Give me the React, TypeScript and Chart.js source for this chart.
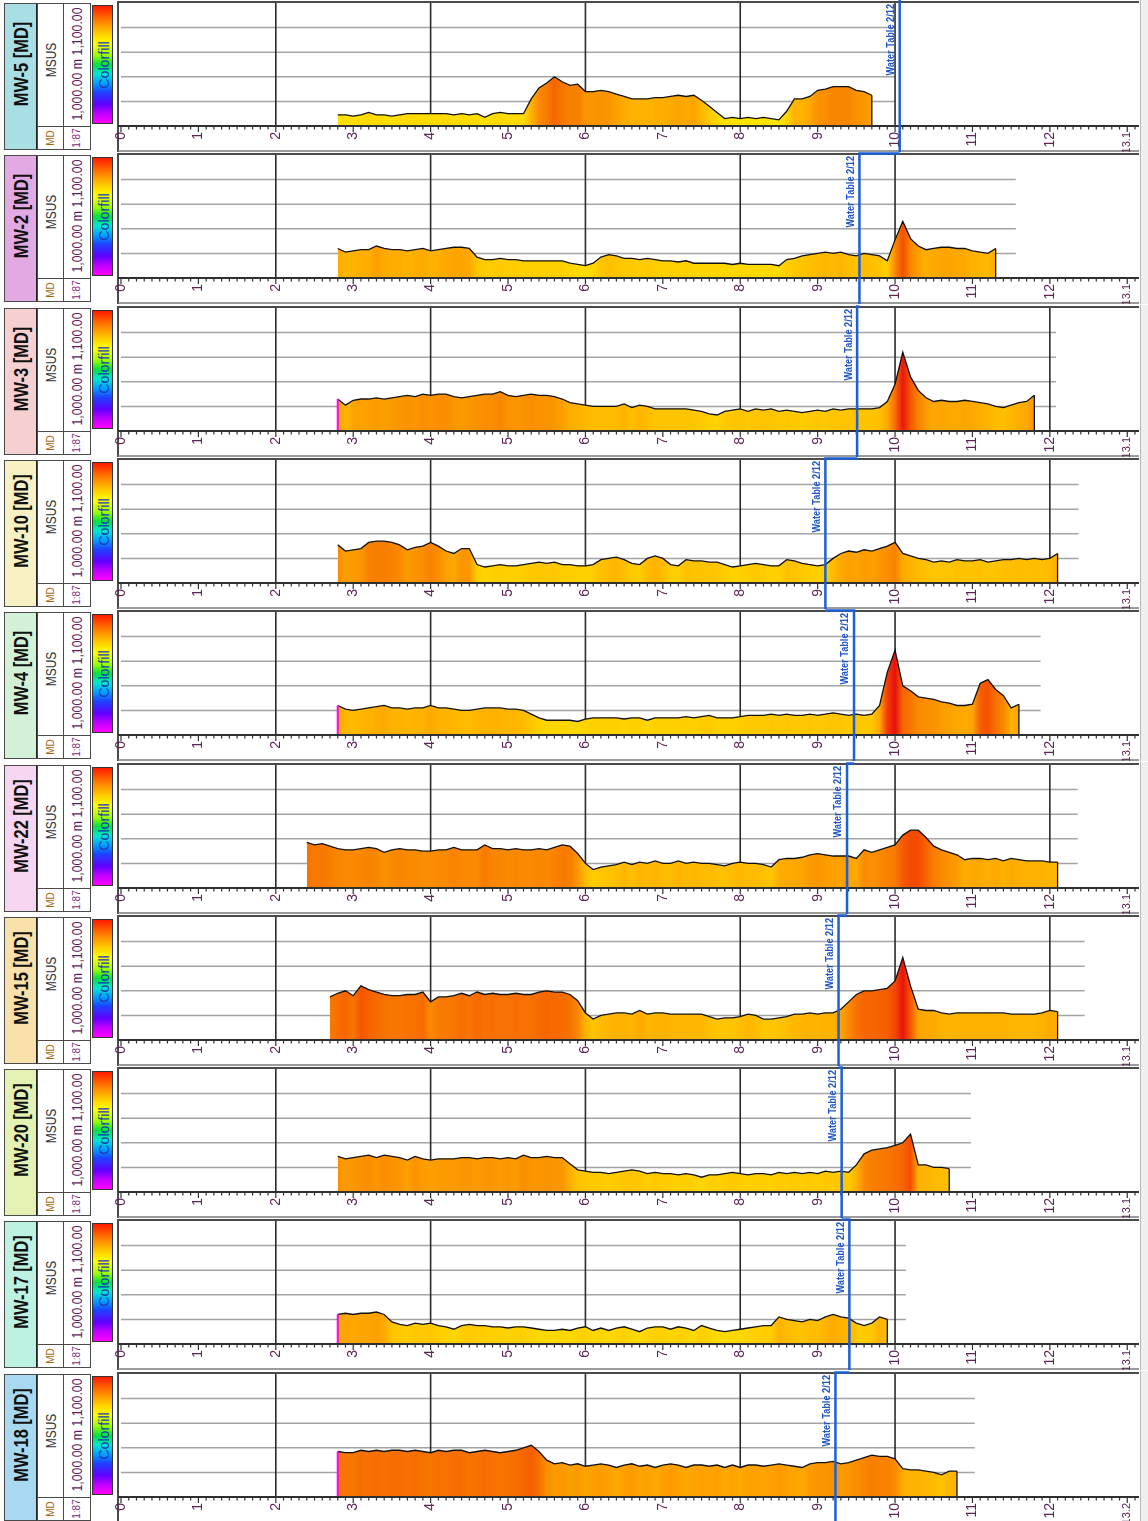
import React, { useEffect, useRef } from 'react';
import { Chart, registerables } from 'chart.js';

Chart.register(...registerables);

// ---------------- data ----------------
const WELLS = ['MW-5', 'MW-2', 'MW-3', 'MW-10', 'MW-4', 'MW-22', 'MW-15', 'MW-20', 'MW-17', 'MW-18'];
const HEADER_COLORS = ['#a9dfe4', '#e2a9e3', '#f6cfd0', '#f8f1c4', '#d2f1d6', '#f6d6f1', '#f9e1ab', '#e3f1b3', '#bdf1e1', '#a9d8f1'];
const DEPTH_STEP = 0.1;
const START_DEPTHS = [2.8, 2.8, 2.8, 2.8, 2.8, 2.4, 2.7, 2.8, 2.8, 2.8];
const WATER_TABLE = [10.06, 9.54, 9.51, 9.1, 9.47, 9.38, 9.27, 9.31, 9.41, 9.23];
const GRID_END = [10.0, 11.56, 12.08, 12.37, 11.88, 12.36, 12.45, 10.98, 10.14, 11.03];
const MAGENTA_START = [false, false, true, false, true, false, false, false, true, true];
const X_TICKS = [0, 1, 2, 3, 4, 5, 6, 7, 8, 9, 10, 11, 12, 13];
const X_TICK_LABELS = ['0', '1', '2', '3', '4', '5', '6', '7', '8', '9', '10', '11', '12'];
const LAST_TICK_LABELS = ['13.1', '13.1', '13.1', '13.1', '13.1', '13.1', '13.1', '13.1', '13.1', '13.2'];
const X_GRID = [2, 4, 6, 8, 10, 12];
const Y_GRID = [1020, 1040, 1060, 1080];
const Y_MIN = 1000;
const Y_MAX = 1100;
const WT_LABEL = 'Water Table 2/12';

const MW5 = [
  1009, 1009, 1008, 1009, 1011, 1009, 1009, 1008, 1009, 1010,
  1010, 1010, 1010, 1010, 1010, 1009, 1010, 1009, 1010, 1007,
  1010, 1011, 1010, 1010, 1010, 1022, 1031, 1035, 1040, 1036,
  1033, 1034, 1028, 1028, 1029, 1028, 1026, 1024, 1022, 1022,
  1022, 1023, 1023, 1024, 1025, 1024, 1025, 1021, 1016, 1011,
  1006, 1007, 1006, 1007, 1006, 1007, 1006, 1005, 1012, 1022,
  1022, 1024, 1029, 1030, 1032, 1032, 1032, 1029, 1028, 1025,
];
const MW2 = [
  1024, 1021, 1022, 1023, 1023, 1026, 1024, 1023, 1023, 1022,
  1023, 1024, 1022, 1023, 1024, 1025, 1025, 1024, 1017, 1015,
  1015, 1016, 1015, 1015, 1014, 1014, 1014, 1014, 1014, 1014,
  1012, 1011, 1010, 1012, 1017, 1019, 1018, 1016, 1016, 1015,
  1016, 1015, 1014, 1014, 1013, 1014, 1012, 1012, 1012, 1012,
  1012, 1011, 1012, 1011, 1011, 1011, 1011, 1010, 1015, 1016,
  1018, 1019, 1020, 1021, 1020, 1021, 1019, 1018, 1020, 1019,
  1018, 1014, 1031, 1046, 1032, 1026, 1023, 1024, 1025, 1025,
  1024, 1024, 1022, 1021, 1020, 1024,
];
const MW3 = [
  1026, 1021, 1025, 1026, 1026, 1027, 1026, 1027, 1028, 1029,
  1028, 1030, 1029, 1030, 1030, 1028, 1027, 1028, 1029, 1030,
  1030, 1032, 1029, 1028, 1029, 1030, 1029, 1029, 1028, 1026,
  1023, 1022, 1021, 1020, 1020, 1020, 1020, 1022, 1019, 1021,
  1020, 1018, 1018, 1018, 1018, 1018, 1017, 1016, 1014, 1013,
  1016, 1017, 1018, 1016, 1018, 1017, 1018, 1016, 1017, 1016,
  1015, 1016, 1017, 1016, 1018, 1017, 1018, 1018, 1018, 1018,
  1019, 1024, 1038, 1064, 1044, 1033, 1027, 1024, 1025, 1024,
  1024, 1025, 1024, 1023, 1022, 1020, 1019, 1021, 1023, 1024,
  1029,
];
const MW10 = [
  1031, 1026, 1027, 1028, 1033, 1034, 1034, 1033, 1031, 1027,
  1029, 1030, 1033, 1030, 1026, 1024, 1028, 1028, 1015, 1013,
  1014, 1015, 1014, 1014, 1015, 1016, 1017, 1016, 1017, 1015,
  1015, 1014, 1014, 1015, 1019, 1020, 1021, 1019, 1016, 1015,
  1020, 1022, 1020, 1015, 1014, 1019, 1018, 1018, 1017, 1017,
  1015, 1013, 1014, 1015, 1016, 1015, 1014, 1014, 1019, 1018,
  1016, 1015, 1014, 1015, 1020, 1024, 1026, 1025, 1027, 1026,
  1028, 1030, 1033, 1024, 1022, 1020, 1019, 1017, 1018, 1017,
  1019, 1018, 1018, 1019, 1017, 1018, 1019, 1019, 1020, 1019,
  1020, 1019, 1020, 1024,
];
const MW4 = [
  1024, 1021, 1020, 1021, 1022, 1023, 1024, 1022, 1022, 1021,
  1022, 1022, 1024, 1022, 1022, 1021, 1020, 1020, 1021, 1022,
  1022, 1022, 1021, 1021, 1020, 1017, 1014, 1012, 1012, 1012,
  1012, 1011, 1013, 1014, 1014, 1014, 1014, 1013, 1014, 1014,
  1012, 1014, 1014, 1014, 1014, 1015, 1014, 1015, 1016, 1014,
  1014, 1014, 1015, 1016, 1016, 1016, 1017, 1016, 1017, 1016,
  1016, 1017, 1016, 1017, 1018, 1017, 1016, 1017, 1016, 1017,
  1024, 1051, 1069, 1040, 1036, 1031, 1030, 1029, 1027, 1026,
  1024, 1024, 1025, 1042, 1045, 1037, 1032, 1022, 1025,
];
const MW22 = [
  1037, 1035, 1036, 1034, 1032, 1031, 1031, 1032, 1033, 1032,
  1029, 1031, 1032, 1031, 1031, 1030, 1030, 1031, 1031, 1033,
  1031, 1031, 1031, 1035, 1032, 1032, 1031, 1032, 1031, 1031,
  1032, 1031, 1033, 1035, 1034, 1028, 1020, 1015, 1017, 1018,
  1019, 1021, 1019, 1021, 1020, 1022, 1020, 1020, 1022, 1020,
  1021, 1020, 1020, 1019, 1018, 1020, 1021, 1020, 1020, 1019,
  1017, 1023, 1024, 1024, 1025, 1027, 1028, 1027, 1026, 1026,
  1026, 1024, 1031, 1029, 1031, 1033, 1035, 1043, 1047, 1047,
  1041, 1034, 1031, 1029, 1027, 1023, 1024, 1024, 1023, 1024,
  1022, 1024, 1023, 1022, 1022, 1022, 1021, 1021,
];
const MW15 = [
  1035, 1038, 1040, 1036, 1044, 1041, 1039, 1037, 1036, 1036,
  1037, 1037, 1039, 1031, 1035, 1035, 1036, 1038, 1036, 1039,
  1037, 1038, 1037, 1037, 1038, 1037, 1037, 1039, 1040, 1039,
  1039, 1037, 1032, 1022, 1017, 1020, 1021, 1022, 1022, 1021,
  1024, 1021, 1022, 1022, 1021, 1021, 1021, 1021, 1021, 1019,
  1017, 1018, 1018, 1019, 1021, 1020, 1017, 1017, 1018, 1019,
  1021, 1021, 1022, 1021, 1022, 1022, 1025, 1031, 1037, 1040,
  1040, 1041, 1042, 1048, 1067, 1044, 1025, 1024, 1024, 1022,
  1021, 1022, 1022, 1022, 1022, 1022, 1022, 1022, 1021, 1021,
  1021, 1021, 1022, 1024, 1023,
];
const MW20 = [
  1029, 1027, 1028, 1029, 1030, 1028, 1030, 1029, 1028, 1026,
  1029, 1027, 1026, 1027, 1027, 1027, 1028, 1028, 1027, 1028,
  1028, 1027, 1028, 1027, 1030, 1028, 1028, 1029, 1028, 1028,
  1023, 1018, 1017, 1016, 1016, 1015, 1016, 1017, 1018, 1017,
  1015, 1016, 1015, 1015, 1014, 1015, 1014, 1012, 1014, 1014,
  1015, 1016, 1015, 1014, 1015, 1015, 1014, 1016, 1015, 1016,
  1015, 1016, 1015, 1017, 1016, 1017, 1016, 1022, 1031, 1034,
  1035, 1036, 1038, 1040, 1047, 1022, 1022, 1020, 1020, 1019,
];
const MW17 = [
  1024, 1025, 1024, 1025, 1025, 1026, 1024, 1018, 1016, 1015,
  1017, 1016, 1017, 1015, 1014, 1012, 1015, 1016, 1015, 1015,
  1014, 1014, 1013, 1014, 1014, 1013, 1012, 1011, 1011, 1012,
  1011, 1013, 1014, 1011, 1013, 1011, 1013, 1014, 1012, 1010,
  1013, 1014, 1014, 1012, 1014, 1013, 1011, 1015, 1013, 1011,
  1010, 1011, 1012, 1013, 1014, 1015, 1015, 1022, 1020, 1019,
  1018, 1020, 1019, 1022, 1024, 1022, 1021, 1017, 1015, 1017,
  1022, 1020,
];
const MW18 = [
  1037, 1036, 1036, 1038, 1037, 1038, 1037, 1038, 1038, 1037,
  1038, 1037, 1036, 1038, 1037, 1038, 1038, 1036, 1037, 1038,
  1037, 1036, 1037, 1038, 1040, 1042, 1037, 1030, 1027, 1028,
  1026, 1027, 1025, 1026, 1027, 1026, 1024, 1026, 1027, 1025,
  1026, 1024, 1026, 1027, 1026, 1024, 1026, 1026, 1025, 1026,
  1024, 1026, 1024, 1026, 1026, 1025, 1026, 1027, 1026, 1025,
  1024, 1027, 1028, 1028, 1029, 1027, 1028, 1030, 1032, 1034,
  1033, 1033, 1031, 1023, 1022, 1022, 1021, 1020, 1018, 1021,
  1021,
];
const SERIES = [MW5, MW2, MW3, MW10, MW4, MW22, MW15, MW20, MW17, MW18];

// colour fill scale (value -> colour)
const COLOR_VALUES = [1005, 1012, 1018, 1023, 1028, 1034, 1041, 1050, 1060, 1070];
const COLOR_HEX = ['#ffe800', '#ffd600', '#ffc300', '#ffae00', '#fb9600', '#f87e00', '#f66200', '#f43f00', '#ee1e08', '#e50f0f'];

// ---------------- styling ----------------
const FONT = '"Liberation Sans", Arial, Helvetica, sans-serif';
const PANEL_PITCH = 152.3;
const PANEL_H = 152;
const CANVAS_LEFT = 115;
const CANVAS_W = 1033;

function hexToRgb(h: string) {
  const n = parseInt(h.slice(1), 16);
  return [(n >> 16) & 255, (n >> 8) & 255, n & 255];
}
function valueColor(v: number): string {
  const n = COLOR_VALUES.length;
  if (v <= COLOR_VALUES[0]) return COLOR_HEX[0];
  if (v >= COLOR_VALUES[n - 1]) return COLOR_HEX[n - 1];
  for (let i = 1; i < n; i++) {
    if (v <= COLOR_VALUES[i]) {
      const t = (v - COLOR_VALUES[i - 1]) / (COLOR_VALUES[i] - COLOR_VALUES[i - 1]);
      const a = hexToRgb(COLOR_HEX[i - 1]);
      const b = hexToRgb(COLOR_HEX[i]);
      const c = a.map((x, k) => Math.round(x + (b[k] - x) * t));
      return `rgb(${c[0]},${c[1]},${c[2]})`;
    }
  }
  return COLOR_HEX[n - 1];
}

function line(ctx: CanvasRenderingContext2D, x1: number, y1: number, x2: number, y2: number) {
  ctx.beginPath();
  ctx.moveTo(x1, y1);
  ctx.lineTo(x2, y2);
  ctx.stroke();
}

function makePanelPlugin(idx: number) {
  return {
    id: 'panelDecor' + idx,
    beforeDraw(chart: any) {
      const { ctx, chartArea: a, scales } = chart;
      const xs = scales.x;
      const ys = scales.y;
      const W = chart.width;
      const H = chart.height;
      ctx.save();
      ctx.fillStyle = '#ffffff';
      ctx.fillRect(0, 0, W, H);
      const xEnd = xs.getPixelForValue(GRID_END[idx]);
      ctx.strokeStyle = '#a4a4a4';
      ctx.lineWidth = 1.5;
      for (const v of Y_GRID) {
        const py = ys.getPixelForValue(v);
        line(ctx, a.left, py, xEnd, py);
      }
      ctx.strokeStyle = '#2b2b2b';
      ctx.lineWidth = 1.6;
      for (const d of X_GRID) {
        if (d > GRID_END[idx] + 0.05) continue;
        const px = xs.getPixelForValue(d);
        line(ctx, px, a.top, px, a.bottom);
      }
      // frame
      ctx.strokeStyle = '#4a4a4a';
      ctx.lineWidth = 2;
      ctx.beginPath();
      ctx.moveTo(a.left - 3, H);
      ctx.lineTo(a.left - 3, a.top - 1);
      ctx.lineTo(W - 9, a.top - 1);
      ctx.stroke();
      ctx.strokeStyle = '#7a7a7a';
      ctx.lineWidth = 1.5;
      line(ctx, a.left - 3, H - 1, W - 9, H - 1);
      ctx.fillStyle = '#efefef';
      ctx.fillRect(W - 8, 0, 8, H);
      ctx.strokeStyle = '#b8b8b8';
      ctx.lineWidth = 1;
      line(ctx, W - 7.5, 0, W - 7.5, H);
      ctx.restore();
    },
    afterDatasetsDraw(chart: any) {
      const { ctx, chartArea: a, scales } = chart;
      const xs = scales.x;
      const ys = scales.y;
      const W = chart.width;
      const H = chart.height;
      const vals = SERIES[idx];
      const start = START_DEPTHS[idx];
      const lastDepth = start + (vals.length - 1) * DEPTH_STEP;
      ctx.save();
      // closing edge of the curve
      ctx.strokeStyle = '#111';
      ctx.lineWidth = 1.3;
      const xl = xs.getPixelForValue(lastDepth);
      line(ctx, xl, ys.getPixelForValue(vals[vals.length - 1]), xl, a.bottom);
      if (MAGENTA_START[idx]) {
        ctx.strokeStyle = '#ff00ff';
        ctx.lineWidth = 2;
        const xf = xs.getPixelForValue(start);
        line(ctx, xf, ys.getPixelForValue(vals[0]), xf, a.bottom);
      }
      // axis line and ticks
      ctx.strokeStyle = '#303030';
      ctx.lineWidth = 2;
      line(ctx, a.left - 3, a.bottom, W - 9, a.bottom);
      ctx.lineWidth = 1.2;
      for (let k = 0; k <= 131; k++) {
        const px = xs.getPixelForValue(k * DEPTH_STEP);
        const len = k % 10 === 0 ? 6 : 3.5;
        line(ctx, px, a.bottom, px, a.bottom + len);
      }
      // water table
      const wx = xs.getPixelForValue(WATER_TABLE[idx]);
      ctx.strokeStyle = '#1d5fd6';
      ctx.lineWidth = 2.5;
      ctx.beginPath();
      ctx.moveTo(wx, H);
      ctx.lineTo(wx, 1.5);
      if (idx > 0) ctx.lineTo(xs.getPixelForValue(WATER_TABLE[idx - 1]), 1.5);
      else ctx.lineTo(wx, 0);
      ctx.stroke();
      ctx.translate(wx - 3, a.top + 1);
      ctx.rotate(-Math.PI / 2);
      ctx.scale(0.8, 1);
      ctx.font = `bold 11.5px ${FONT}`;
      ctx.fillStyle = '#1f55c8';
      ctx.textAlign = 'right';
      ctx.textBaseline = 'bottom';
      ctx.fillText(WT_LABEL, 0, 0);
      ctx.restore();
    },
  };
}

function RotText(props: { cx: number; cy: number; size: number; color: string; weight?: string; sx?: number; children: any }) {
  const { cx, cy, size, color, weight = 'normal', sx = 1, children } = props;
  return (
    <div
      style={{
        position: 'absolute',
        left: cx,
        top: cy,
        transform: `translate(-50%, -50%) rotate(-90deg) scaleX(${sx})`,
        whiteSpace: 'nowrap',
        fontSize: size,
        fontWeight: weight as any,
        color,
        fontFamily: FONT,
        lineHeight: 1,
      }}
    >
      {children}
    </div>
  );
}

const box = (left: number, top: number, width: number, height: number, extra: any = {}) => ({
  position: 'absolute' as const,
  left,
  top,
  width,
  height,
  boxSizing: 'border-box' as const,
  border: '1px solid #4a4a4a',
  ...extra,
});

function Panel({ idx }: { idx: number }) {
  const ref = useRef<HTMLCanvasElement>(null);
  useEffect(() => {
    const canvas = ref.current;
    if (!canvas) return;
    const vals = SERIES[idx];
    const start = START_DEPTHS[idx];
    const pts = vals.map((v, i) => ({ x: Number((start + i * DEPTH_STEP).toFixed(2)), y: v }));
    const labels = [...X_TICK_LABELS, LAST_TICK_LABELS[idx]];
    const chart = new Chart(canvas, {
      type: 'line',
      data: {
        datasets: [
          {
            data: pts,
            borderColor: '#111111',
            borderWidth: 1.3,
            pointRadius: 0,
            tension: 0,
            fill: 'start',
            backgroundColor: (c: any) => {
              const ch = c.chart;
              const a = ch.chartArea;
              if (!a) return '#ffb000';
              const xs = ch.scales.x;
              const g = ch.ctx.createLinearGradient(a.left, 0, a.right, 0);
              for (const p of pts) {
                const t = (xs.getPixelForValue(p.x) - a.left) / (a.right - a.left);
                g.addColorStop(Math.min(1, Math.max(0, t)), valueColor(p.y));
              }
              return g;
            },
          },
        ],
      },
      options: {
        animation: false,
        responsive: false,
        maintainAspectRatio: false,
        devicePixelRatio: 1,
        events: [],
        layout: { padding: { left: 6, right: 13, top: 3, bottom: 0 } },
        plugins: { legend: { display: false }, tooltip: { enabled: false } },
        scales: {
          x: {
            type: 'linear',
            position: 'bottom',
            min: 0,
            max: 13.1,
            afterBuildTicks: (s: any) => {
              s.ticks = X_TICKS.map((v) => ({ value: v }));
            },
            afterFit: (s: any) => {
              s.height = 26;
              s.paddingLeft = 0;
              s.paddingRight = 0;
            },
            grid: { display: false, drawTicks: false },
            border: { display: false },
            ticks: {
              autoSkip: false,
              minRotation: 90,
              maxRotation: 90,
              padding: 6,
              color: '#5e2456',
              font: (c: any) => ({ family: FONT, size: c.index === X_TICKS.length - 1 ? 11 : 14 }),
              callback: (_v: any, i: number) => labels[i],
            },
          },
          y: { min: Y_MIN, max: Y_MAX, display: false },
        },
      } as any,
      plugins: [makePanelPlugin(idx)],
    });
    return () => chart.destroy();
  }, [idx]);

  const top = Math.round(idx * PANEL_PITCH);
  return (
    <div style={{ position: 'absolute', left: 0, top, width: 1148, height: PANEL_H }}>
      <div style={box(4, 3, 34, 147, { background: HEADER_COLORS[idx], borderRight: '2px solid #222' })} />
      <RotText cx={20.5} cy={64} size={20} weight="bold" sx={0.82} color="#111">{`${WELLS[idx]} [MD]`}</RotText>
      <div style={box(37, 3, 27, 124, { background: '#fff' })} />
      <RotText cx={50.5} cy={60} size={14} sx={0.85} color="#333">MSUS</RotText>
      <div style={box(63, 3, 28, 124, { background: '#fff' })} />
      <RotText cx={77} cy={64} size={14} sx={0.88} color="#5e1a5e">1,000.00 m 1,100.00</RotText>
      <div
        style={box(92, 5, 21, 119, {
          border: '1px solid #333',
          background:
            'linear-gradient(to bottom, #ff1a00 0%, #ff7a00 12%, #ffd000 24%, #ffff00 32%, #9cff00 42%, #00e040 50%, #00e8d0 58%, #00a0ff 66%, #2040ff 74%, #6000ff 84%, #c000ff 92%, #ff00ff 100%)',
        })}
      />
      <RotText cx={102.5} cy={65} size={15} sx={0.95} color="#1a3fb0">Colorfill</RotText>
      <div style={box(37, 126, 27, 24, { background: '#fff' })} />
      <RotText cx={50.5} cy={138} size={10} color="#a8680f">MD</RotText>
      <div style={box(63, 126, 28, 24, { background: '#fff' })} />
      <RotText cx={77} cy={138} size={10} color="#7a2a7a">1:87</RotText>
      <canvas
        ref={ref}
        width={CANVAS_W}
        height={PANEL_H}
        style={{ position: 'absolute', left: CANVAS_LEFT, top: 0, width: CANVAS_W, height: PANEL_H }}
      />
    </div>
  );
}

export default function App() {
  useEffect(() => {
    document.body.style.margin = '0';
  }, []);
  return (
    <div style={{ position: 'relative', width: 1148, height: 1521, overflow: 'hidden', background: '#fff' }}>
      {WELLS.map((_, i) => (
        <Panel key={i} idx={i} />
      ))}
    </div>
  );
}
